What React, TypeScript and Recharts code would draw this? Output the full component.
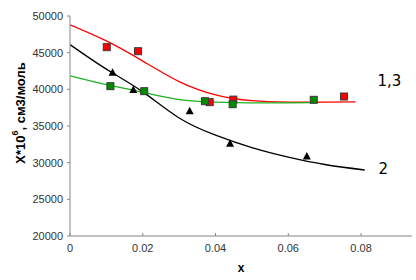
// App.tsx
// Susceptibility vs x – three measured series with their fitted trend curves.

import * as React from "react";
import {
  ComposedChart,
  Line,
  Scatter,
  XAxis,
  YAxis,
  ReferenceDot,
} from "recharts";

// measured points (series 1 – red, 3 – green, 2 – black)
const redX = [0.0101, 0.0187, 0.0384, 0.0449, 0.0753];
const redY = [45750, 45200, 38250, 38600, 39020];
const greenX = [0.0111, 0.0204, 0.0371, 0.0447, 0.067];
const greenY = [40430, 39750, 38380, 37970, 38570];
const blackX = [0.0117, 0.0174, 0.0329, 0.044, 0.0651];
const blackY = [42250, 39900, 37020, 32570, 30840];

// trend curves
const redFitX = [0, 0.01, 0.02, 0.03, 0.04, 0.05, 0.06, 0.07, 0.0785];
const redFitY = [48800, 46600, 43850, 41050, 39250, 38450, 38250, 38250, 38300];
const greenFitX = [0, 0.01, 0.02, 0.03, 0.04, 0.05, 0.06, 0.067];
const greenFitY = [41850, 40650, 39600, 38600, 38250, 38150, 38150, 38200];
const blackFitX = [0, 0.01, 0.02, 0.03, 0.04, 0.05, 0.06, 0.07, 0.081];
const blackFitY = [46100, 42750, 39650, 36100, 33750, 32050, 30750, 29750, 29000];

const xTicks = [0, 0.02, 0.04, 0.06, 0.08];
const yTicks = [20000, 25000, 30000, 35000, 40000, 45000, 50000];

// curve captions
const captions = [
  { x: 0.0845, y: 41100, text: "1,3" },
  { x: 0.0848, y: 29100, text: "2" },
];

const zip = (xs: number[], ys: number[]) => xs.map((x, i) => ({ x, y: ys[i] }));

const redPts = zip(redX, redY);
const greenPts = zip(greenX, greenY);
const blackPts = zip(blackX, blackY);
const redFit = zip(redFitX, redFitY);
const greenFit = zip(greenFitX, greenFitY);
const blackFit = zip(blackFitX, blackFitY);

const tickFont = { fontFamily: "Liberation Sans, Arial, sans-serif", fontSize: 11, fill: "#333" };

const SquareShape = (color: string) => (props: any) => {
  const { cx, cy } = props;
  return (
    <rect x={cx - 3.5} y={cy - 3.5} width={7} height={7} fill={color} stroke="#3a3a3a" strokeWidth={1} />
  );
};

const TriangleShape = (props: any) => {
  const { cx, cy } = props;
  return <path d={`M${cx},${cy - 4.5} L${cx + 4},${cy + 3} L${cx - 4},${cy + 3} Z`} fill="#000" />;
};

// x ticks point inward (upwards), labels below the axis
const XTick = (props: any) => {
  const { x, y, payload } = props;
  return (
    <g>
      <line x1={x} x2={x} y1={y - 3} y2={y} stroke="#868686" />
      <text x={x} y={y + 16} textAnchor="middle" {...tickFont}>
        {payload.value}
      </text>
    </g>
  );
};

// rotated axis title, placed as in the original
const YLabel = () => {
  const cx = 20;
  const cy = 113;
  return (
    <text
      x={cx}
      y={cy}
      transform={`rotate(-90 ${cx} ${cy})`}
      textAnchor="middle"
      dominantBaseline="central"
      fontFamily="Liberation Sans, Arial, sans-serif"
      fontSize={13}
      fontWeight="bold"
      fill="#000"
    >
      X*10<tspan dy={-5} fontSize={9}>6</tspan>
      <tspan dy={5}>, см3/моль</tspan>
    </text>
  );
};

const Caption = (text: string) => (props: any) => {
  const vb = props.viewBox || {};
  return (
    <text
      x={vb.x}
      y={vb.y}
      dominantBaseline="central"
      fontFamily="DejaVu Sans, Verdana, sans-serif"
      fontSize={15}
      fill="#000"
    >
      {text}
    </text>
  );
};

const App: React.FC = () => {
  return (
    <div style={{ position: "absolute", left: 0, top: 0, background: "#fff" }}>
      <ComposedChart width={416} height={280} margin={{ top: 16, right: 4, left: 0, bottom: 0 }}>
        <XAxis
          type="number"
          dataKey="x"
          domain={[0, 0.094]}
          ticks={xTicks}
          allowDataOverflow
          height={44}
          tickSize={0}
          tickMargin={0}
          tickLine={false}
          tick={<XTick />}
          stroke="#868686"
          label={{
            value: "x",
            position: "insideBottom",
            offset: 8,
            style: { fontFamily: "Liberation Sans, Arial, sans-serif", fontSize: 12, fontWeight: "bold", fill: "#000" },
          }}
        />
        <YAxis
          type="number"
          dataKey="y"
          domain={[20000, 50000]}
          ticks={yTicks}
          width={70}
          tickSize={3}
          tickMargin={4}
          stroke="#868686"
          tick={tickFont}
          label={{ content: () => <YLabel /> }}
        />
        <Line data={redFit} dataKey="y" type="natural" stroke="#ff0000" strokeWidth={1.3} dot={false} isAnimationActive={false} />
        <Line data={greenFit} dataKey="y" type="natural" stroke="#1db31d" strokeWidth={1.3} dot={false} isAnimationActive={false} />
        <Line data={blackFit} dataKey="y" type="natural" stroke="#000" strokeWidth={1.3} dot={false} isAnimationActive={false} />
        <Scatter data={redPts} dataKey="y" shape={SquareShape("#ff0000")} isAnimationActive={false} />
        <Scatter data={greenPts} dataKey="y" shape={SquareShape("#008a00")} isAnimationActive={false} />
        <Scatter data={blackPts} dataKey="y" shape={TriangleShape} isAnimationActive={false} />
        {captions.map((c) => (
          <ReferenceDot key={c.text} x={c.x} y={c.y} r={0} fill="none" stroke="none" label={{ content: Caption(c.text) }} />
        ))}
      </ComposedChart>
    </div>
  );
};

export default App;
